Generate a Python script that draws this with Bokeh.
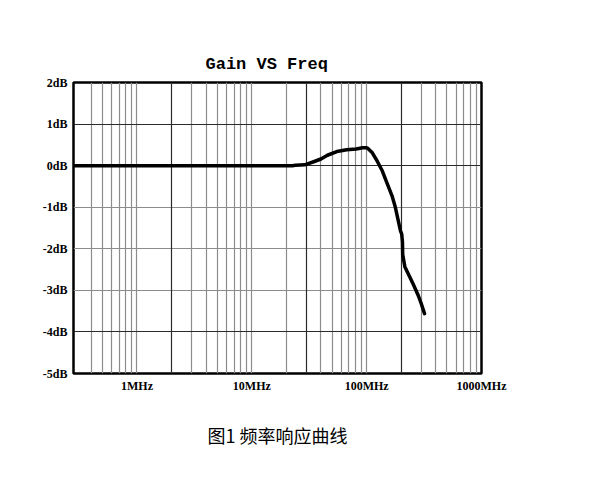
from bokeh.plotting import figure
from bokeh.models import FixedTicker, PrintfTickFormatter, Grid, Range1d
from bokeh.embed import file_html
from bokeh.resources import INLINE

# Data
freq_mhz = [0.28, 1, 10, 20, 22.5, 24, 29, 35, 40, 45.5, 55, 67, 81, 92, 99, 102,
            112, 124, 137, 151, 166, 177, 189, 197, 202, 205, 206, 215, 230, 254,
            280, 298, 319]
gain_db = [0, 0, 0, 0, 0, 0.01, 0.02, 0.10, 0.16, 0.25, 0.34, 0.38, 0.40, 0.43, 0.43, 0.42,
           0.31, 0.10, -0.13, -0.43, -0.72, -0.98, -1.34, -1.57, -1.65, -1.84, -2.14, -2.43, -2.60, -2.85,
           -3.11, -3.31, -3.56]

x_ticks = [1, 10, 100, 1000]
y_ticks = [-5, -4, -3, -2, -1, 0, 1, 2]
grid_light_x = [0.4, 0.5, 0.6, 0.7, 0.8, 0.9, 1,
                3, 4, 5, 6, 7, 8, 9, 10,
                20, 40, 50, 60, 70, 80, 90, 100,
                300, 400, 500, 600, 700, 800, 900]
grid_dark_x = [2, 30, 200]
grid_light_y = [-3, -2, -1]
grid_dark_y = [-4, 0, 1]

title_text = "Gain VS Freq"
caption_text = "图1 频率响应曲线"

p = figure(width=582, height=465, x_axis_type="log",
           x_range=Range1d(0.28, 1000), y_range=Range1d(-5, 2),
           output_backend="svg", toolbar_location=None,
           min_border_left=73, min_border_right=101,
           min_border_top=82, min_border_bottom=92)

p.background_fill_color = "white"
p.border_fill_color = "white"
p.outline_line_color = "black"
p.outline_line_width = 2.5
p.outline_line_alpha = 1.0

# Title
p.title.text = title_text
p.title.text_font = "Liberation Mono"
p.title.text_font_style = "bold"
p.title.text_font_size = "17px"
p.title.text_color = "black"
p.title.align = "left"
p.title.offset = 132
p.title.standoff = 18

# Axes
for ax in (p.xaxis[0], p.yaxis[0]):
    ax.axis_line_color = None
    ax.major_tick_line_color = None
    ax.minor_tick_line_color = None
    ax.major_tick_out = 0
    ax.major_tick_in = 0
    ax.major_label_text_font = "Liberation Serif"
    ax.major_label_text_font_style = "bold"
    ax.major_label_text_font_size = "12px"
    ax.major_label_text_color = "black"

p.xaxis.ticker = FixedTicker(ticks=x_ticks)
p.xaxis.formatter = PrintfTickFormatter(format="%dMHz")
p.xaxis.major_label_standoff = 5
p.xaxis.axis_label = caption_text
p.xaxis.axis_label_text_font = "Noto Sans CJK SC"
p.xaxis.axis_label_text_font_style = "normal"
p.xaxis.axis_label_text_font_size = "18px"
p.xaxis.axis_label_text_color = "black"
p.xaxis.axis_label_standoff = 26

p.yaxis.ticker = FixedTicker(ticks=y_ticks)
p.yaxis.formatter = PrintfTickFormatter(format="%ddB")
p.yaxis.major_label_standoff = 6

# Grids
p.xgrid.ticker = FixedTicker(ticks=grid_light_x)
p.xgrid.grid_line_color = "#8c8c8c"
p.xgrid.grid_line_width = 1.2
p.ygrid.ticker = FixedTicker(ticks=grid_light_y)
p.ygrid.grid_line_color = "#8c8c8c"
p.ygrid.grid_line_width = 1.2

p.add_layout(Grid(dimension=0, ticker=FixedTicker(ticks=grid_dark_x),
                  grid_line_color="#2a2a2a", grid_line_width=1.2))
p.add_layout(Grid(dimension=1, ticker=FixedTicker(ticks=grid_dark_y),
                  grid_line_color="#2a2a2a", grid_line_width=1.2))

# Curve
p.line(freq_mhz, gain_db, line_color="black", line_width=3.5, line_join="round", line_cap="round")

open("out.html", "w").write(file_html(p, INLINE))
